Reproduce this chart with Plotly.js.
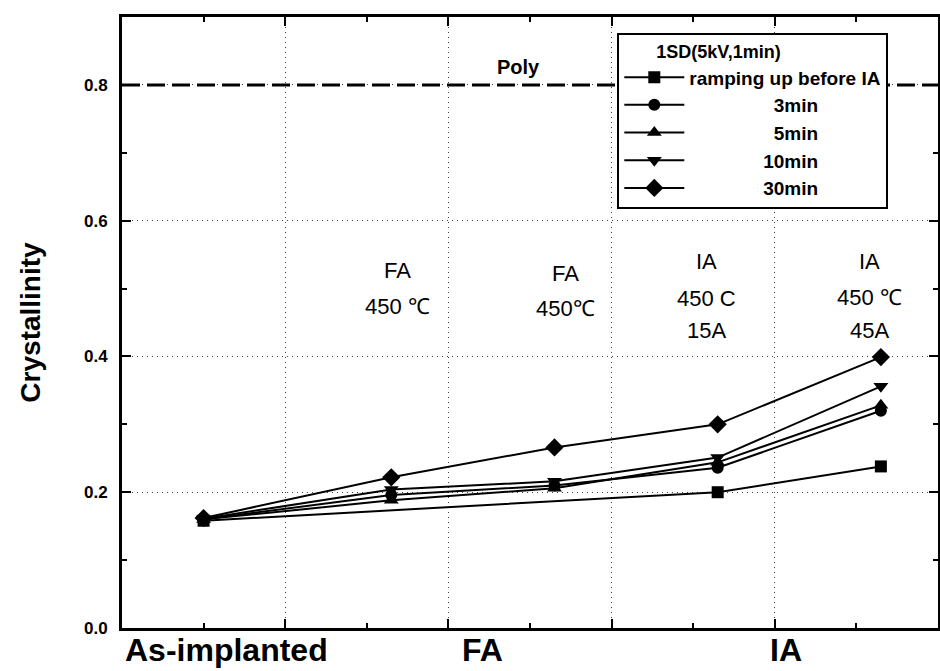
<!DOCTYPE html>
<html>
<head>
<meta charset="utf-8">
<script src="https://cdn.plot.ly/plotly-3.0.1.min.js"></script>
<style>html,body{margin:0;padding:0;background:#fff;}#chart{width:940px;height:671px;}</style>
</head>
<body>
<div id="chart"></div>
<script>
// ---- data ----
const xPositions = [0.5, 1.65, 2.65, 3.65, 4.65];
const seriesNames = ["ramping up before IA", "3min", "5min", "10min", "30min"];
const rampingUp = [0.158, null, null, 0.200, 0.238];
const min3 = [0.160, 0.196, 0.210, 0.236, 0.320];
const min5 = [0.160, 0.188, 0.206, 0.244, 0.328];
const min10 = [0.161, 0.204, 0.216, 0.251, 0.356];
const min30 = [0.162, 0.222, 0.266, 0.300, 0.399];
const polyLevel = 0.8;
const polyLabel = "Poly";
const categoryLabels = ["As-implanted", "FA", "IA"];
const categoryLabelX = [0.64, 2.21, 4.07];
const conditionX = [1.69, 2.72, 3.58, 4.58];
const conditionLines = [["FA", "450 \u2103"], ["FA", "450\u2103"], ["IA", "450 C", "15A"], ["IA", "450 \u2103", "45A"]];
const legendTitle = "1SD(5kV,1min)";
const yTitle = "Crystallinity";

const FONT = "Liberation Sans, Arial, Helvetica, sans-serif";
const symbols = ["square", "circle", "triangle-up", "triangle-down", "diamond"];
const sizes = [12, 12, 13, 13, 14];
const pads = [0, 16, 16, 14, 14];
const allSeries = [rampingUp, min3, min5, min10, min30];

const traces = [{
  x: [0, 5], y: [polyLevel, polyLevel], mode: "lines", showlegend: false,
  line: {color: "#000", width: 3, dash: "18px,7px"}, hoverinfo: "skip"
}];
allSeries.forEach((ys, i) => {
  traces.push({
    x: xPositions, y: ys, name: "\u00a0".repeat(pads[i]) + seriesNames[i],
    mode: "lines+markers", connectgaps: true,
    line: {color: "#000", width: 2},
    marker: {symbol: symbols[i], size: sizes[i], color: "#000"}
  });
});

const annotations = [];
categoryLabels.forEach((t, i) => annotations.push({
  text: t, x: categoryLabelX[i], xref: "x", y: -0.036, yref: "paper",
  showarrow: false, xanchor: "center", yanchor: "middle",
  font: {family: FONT, size: 32, color: "#000", weight: "bold"}
}));
const lineY = [[0.526, 0.474], [0.522, 0.470], [0.540, 0.486, 0.438], [0.540, 0.487, 0.438]];
conditionLines.forEach((lines, i) => lines.forEach((t, j) => annotations.push({
  text: t, x: conditionX[i], xref: "x", y: lineY[i][j], yref: "y",
  showarrow: false, xanchor: "center", yanchor: "middle",
  font: {family: FONT, size: 22, color: "#000"}
})));
annotations.push({
  text: polyLabel, x: 2.43, xref: "x", y: 0.827, yref: "y", showarrow: false,
  xanchor: "center", yanchor: "middle",
  font: {family: FONT, size: 20, color: "#000", weight: "bold"}
});

const axisCommon = {
  showline: true, linecolor: "#000", linewidth: 3, mirror: "allticks",
  ticks: "inside", ticklen: 9, tickwidth: 2, tickcolor: "#000",
  showgrid: true, gridcolor: "#444", gridwidth: 1, griddash: "1px,4px",
  zeroline: false, fixedrange: true
};

const layout = {
  width: 940, height: 671,
  margin: {l: 122, r: 2, t: 17, b: 43},
  paper_bgcolor: "#fff", plot_bgcolor: "#fff",
  font: {family: FONT, color: "#000"},
  xaxis: Object.assign({}, axisCommon, {
    range: [0, 5], tickvals: [1, 2, 3, 4], showticklabels: false,
    minor: {ticks: "inside", ticklen: 5, tickwidth: 2, tickcolor: "#000", dtick: 0.5, tick0: 0, showgrid: false}
  }),
  yaxis: Object.assign({}, axisCommon, {
    range: [0, 0.9], tick0: 0, dtick: 0.2, tickformat: ".1f",
    tickfont: {family: FONT, size: 17, color: "#000", weight: "bold"},
    ticklabelstandoff: 8,
    title: {text: yTitle, standoff: 36, font: {family: FONT, size: 28, color: "#000", weight: "bold"}},
    minor: {ticks: "inside", ticklen: 5, tickwidth: 2, tickcolor: "#000", dtick: 0.1, tick0: 0, showgrid: false}
  }),
  legend: {
    x: 0.607, y: 0.974, xanchor: "left", yanchor: "top",
    bgcolor: "#fff", bordercolor: "#000", borderwidth: 2,
    font: {family: FONT, size: 19, color: "#000", weight: "bold"},
    title: {text: "\u00a0\u00a0\u00a0\u00a0\u00a0\u00a0\u00a0" + legendTitle, font: {family: FONT, size: 18, color: "#000", weight: "bold"}},
    itemwidth: 60, tracegroupgap: 0
  },
  annotations: annotations,
  showlegend: true
};

Plotly.newPlot("chart", traces, layout, {displayModeBar: false, staticPlot: true});
</script>
</body>
</html>
